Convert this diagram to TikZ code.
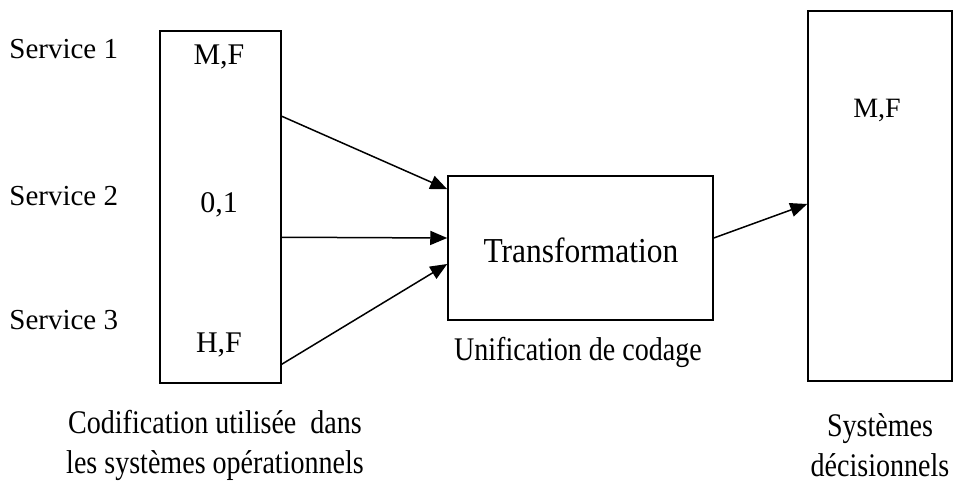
\documentclass[tikz,border=0pt]{standalone}
\usepackage{fontspec}
\setmainfont{Liberation Serif}
\newfontfamily\narrowserif{Liberation Serif}[FakeStretch=0.85]
\newfontfamily\trserif{Liberation Serif}[FakeStretch=0.9]
\usetikzlibrary{calc,arrows.meta}
\begin{document}
\begin{tikzpicture}[x=0.5pt,y=-0.5pt,
  box/.style={draw,line width=0.75pt,minimum width=#1,inner sep=0pt},
  lbl/.style={font=\fontsize{14.5pt}{17pt}\selectfont,inner sep=0pt},
  code/.style={font=\fontsize{15pt}{18pt}\selectfont,inner sep=0pt},
  caption/.style={font=\narrowserif\fontsize{16.5pt}{20pt}\selectfont,inner sep=0pt,align=center},
  flow/.style={line width=0.75pt,-{Triangle[length=8.5pt,width=7pt]}}]
\useasboundingbox (0,0) rectangle (974,486);

% the three boxes
\node[box=60.5pt,minimum height=176pt] (src) at (220.5,207) {};
\node[box=132.5pt,minimum height=72pt] (tr) at (580.5,248) {};
\node[box=72pt,minimum height=185pt] (dec) at (880,196) {};

% service names
\node[lbl,anchor=west] (s1) at (9,49) {Service 1};
\node[lbl,anchor=west] (s2) at (9,196) {Service 2};
\node[lbl,anchor=west] (s3) at (9,320) {Service 3};

% codes per service
\node[code] (c1) at (219,57) {M,F};
\node[code] (c2) at (219,205) {0,1};
\node[code] (c3) at (219,345) {H,F};

\node[font=\trserif\fontsize{17.5pt}{20pt}\selectfont,inner sep=0pt] (trt) at (581,250) {Transformation};
\node[caption] (uni) at (578,352) {Unification de codage};
\node[font=\fontsize{14pt}{16pt}\selectfont,inner sep=0pt] (dc) at (877,110) {M,F};

\node[caption] (cod) at (215,445) {Codification utilisée~~dans\\les systèmes opérationnels};
\node[caption] (sys) at (880,445) {Systèmes\\décisionnels};

% flows
\draw[flow] ($(src.north east)+(0,86)$) -- ($(tr.north west)+(0,14)$);
\draw[flow] ($(src.north east)+(0,207)$) -- ($(tr.west)+(0,-10)$);
\draw[flow] ($(src.north east)+(0,334)$) -- ($(tr.west)+(0,16)$);
\draw[flow] ($(tr.east)+(0,-10)$) -- ($(dec.west)+(0,8)$);
\end{tikzpicture}
\end{document}
